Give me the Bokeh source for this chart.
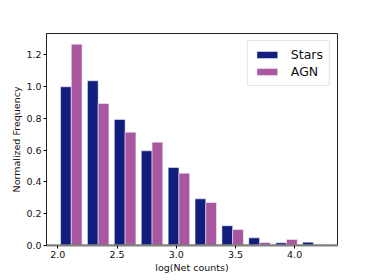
from bokeh.plotting import figure
from bokeh.models import ColumnDataSource, Range1d, FixedTicker, Legend, LegendItem, Span, NumeralTickFormatter
from bokeh.embed import file_html
from bokeh.resources import INLINE

# Histogram bin edges (log net counts)
bin_edges = [2.0, 2.227, 2.454, 2.682, 2.909, 3.136, 3.363, 3.590, 3.818, 4.045, 4.272]
stars_freq = [0.997, 1.035, 0.792, 0.595, 0.490, 0.293, 0.124, 0.048, 0.017, 0.021]
agn_freq = [1.265, 0.892, 0.712, 0.649, 0.454, 0.270, 0.100, 0.019, 0.038, 0.006]
x_ticks = [2.0, 2.5, 3.0, 3.5, 4.0]
y_ticks = [0.0, 0.2, 0.4, 0.6, 0.8, 1.0, 1.2]

STAR_COLOR = "#121e7e"
AGN_COLOR = "#a857a0"

lefts = bin_edges[:-1]
widths = [bin_edges[i + 1] - bin_edges[i] for i in range(len(lefts))]
stars_src = ColumnDataSource(dict(
    left=[l + 0.1 * w for l, w in zip(lefts, widths)],
    right=[l + 0.5 * w for l, w in zip(lefts, widths)],
    top=stars_freq, bottom=[0] * len(stars_freq)))
agn_src = ColumnDataSource(dict(
    left=[l + 0.5 * w for l, w in zip(lefts, widths)],
    right=[l + 0.9 * w for l, w in zip(lefts, widths)],
    top=agn_freq, bottom=[0] * len(agn_freq)))

p = figure(width=366, height=278, output_backend="svg", toolbar_location=None,
           x_range=Range1d(1.904, 4.362), y_range=Range1d(0, 1.332),
           min_border_left=46, min_border_right=29, min_border_top=33, min_border_bottom=33)
p.background_fill_color = "white"
p.border_fill_color = "white"
p.xgrid.visible = False
p.ygrid.visible = False
p.outline_line_color = "#222222"
p.outline_line_width = 1

r1 = p.quad(left="left", right="right", top="top", bottom="bottom", source=stars_src,
            fill_color=STAR_COLOR, line_color="white", line_alpha=0.5, line_width=1)
r2 = p.quad(left="left", right="right", top="top", bottom="bottom", source=agn_src,
            fill_color=AGN_COLOR, line_color="white", line_alpha=0.5, line_width=1)

p.add_layout(Span(location=0, dimension="width", line_color="gray", line_width=2))

for ax in (p.xaxis[0], p.yaxis[0]):
    ax.major_label_text_font = "DejaVu Sans"
    ax.major_label_text_font_size = "9.5px"
    ax.major_label_text_color = "#111111"
    ax.axis_label_text_font = "DejaVu Sans"
    ax.axis_label_text_font_size = "9.5px"
    ax.axis_label_text_font_style = "normal"
    ax.axis_label_text_color = "#111111"
    ax.minor_tick_line_color = None
    ax.major_tick_out = 3
    ax.major_tick_in = 0
    ax.major_label_standoff = 2
    ax.axis_label_standoff = 3
    ax.axis_line_color = "#222222"

p.xaxis.ticker = FixedTicker(ticks=x_ticks)
p.yaxis.ticker = FixedTicker(ticks=y_ticks)
p.xaxis.formatter = NumeralTickFormatter(format="0.0")
p.yaxis.formatter = NumeralTickFormatter(format="0.0")
p.xaxis.axis_label = "log(Net counts)"
p.yaxis.axis_label = "Normalized Frequency"
p.xaxis.axis_label_standoff = 1
p.yaxis.axis_label_standoff = 1
p.xaxis.axis_line_color = "gray"
p.xaxis.axis_line_width = 2

legend = Legend(items=[LegendItem(label="Stars", renderers=[r1]),
                       LegendItem(label="AGN", renderers=[r2])],
                location="top_right", margin=7, padding=6, spacing=2,
                glyph_width=26, glyph_height=9, label_height=9, label_standoff=11,
                label_text_font="DejaVu Sans", label_text_font_size="12.5px",
                label_text_color="#111111",
                border_line_color="#cccccc", border_line_width=1,
                background_fill_alpha=0.8)
p.add_layout(legend)

open("out.html", "w").write(file_html(p, INLINE))
